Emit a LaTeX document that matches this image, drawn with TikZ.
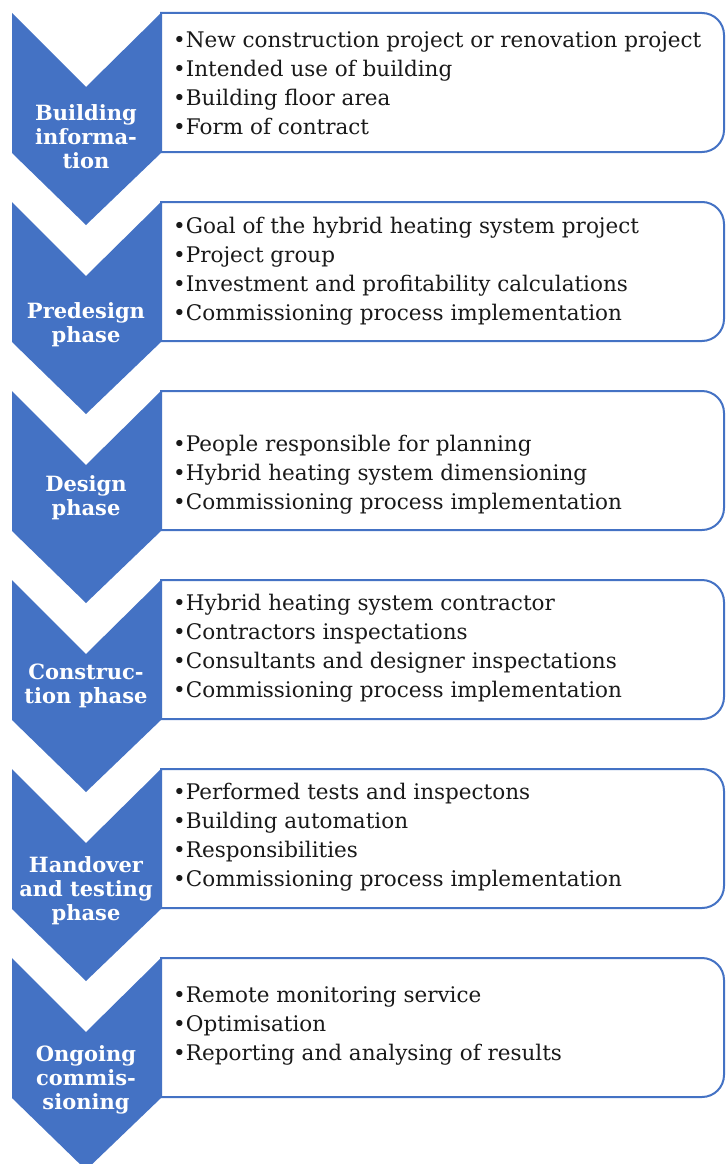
\documentclass[tikz,border=0pt]{standalone}
\usepackage{fontspec}
\setmainfont{DejaVu Serif}
\usetikzlibrary{positioning}
\definecolor{phaseblue}{HTML}{4472C4}

\begin{document}
\begin{tikzpicture}[
  x=1pt, y=-1pt,
  chevron/.style={fill=phaseblue, draw=none},
  infobox/.style={draw=phaseblue, line width=2pt, fill=white},
  phase/.style={font=\fontsize{21}{24}\selectfont\bfseries, text=white,
                align=center, inner sep=0pt},
  items/.style={font=\fontsize{21.5}{29}\selectfont, text=black!90,
                align=left, anchor=west, inner sep=0pt},
]
\useasboundingbox (0,0) rectangle (726,1164);

% Boxes and chevrons
\foreach \t in {13,202,391,580,769,958}{
  \draw[infobox] (161,\t) -- (702,\t) arc[start angle=-90, end angle=0, radius=22]
    -- (724,\t+117) arc[start angle=0, end angle=90, radius=22] -- (161,\t+139) -- cycle;
  \fill[chevron] (12,\t) -- (86,\t+74) -- (161,\t) -- (161,\t+140)
    -- (86,\t+212) -- (12,\t+140) -- cycle;
}

% Phases
\node[phase] (ph1) at (86,137) {Building\\informa-\\tion};
\node[phase] (ph2) at (86,325) {Predesign\\phase};
\node[phase] (ph3) at (86,498) {Design\\phase};
\node[phase] (ph4) at (86,686) {Construc-\\tion phase};
\node[phase] (ph5) at (86,891) {Handover\\and testing\\phase};
\node[phase] (ph6) at (86,1080) {Ongoing\\commis-\\sioning};

% Contents
\node[items] (it1) at (173,83.5) {•New construction project or renovation project\\
  •Intended use of building\\•Building floor area\\•Form of contract};
\node[items] (it2) at (173,271.5) {•Goal of the hybrid heating system project\\
  •Project group\\•Investment and profitability calculations\\
  •Commissioning process implementation};
\node[items] (it3) at (173,475) {•People responsible for planning\\
  •Hybrid heating system dimensioning\\•Commissioning process implementation};
\node[items] (it4) at (173,648.5) {•Hybrid heating system contractor\\
  •Contractors inspectations\\•Consultants and designer inspectations\\
  •Commissioning process implementation};
\node[items] (it5) at (173,837.5) {•Performed tests and inspectons\\
  •Building automation\\•Responsibilities\\•Commissioning process implementation};
\node[items] (it6) at (173,1026) {•Remote monitoring service\\
  •Optimisation\\•Reporting and analysing of results};

\end{tikzpicture}
\end{document}
